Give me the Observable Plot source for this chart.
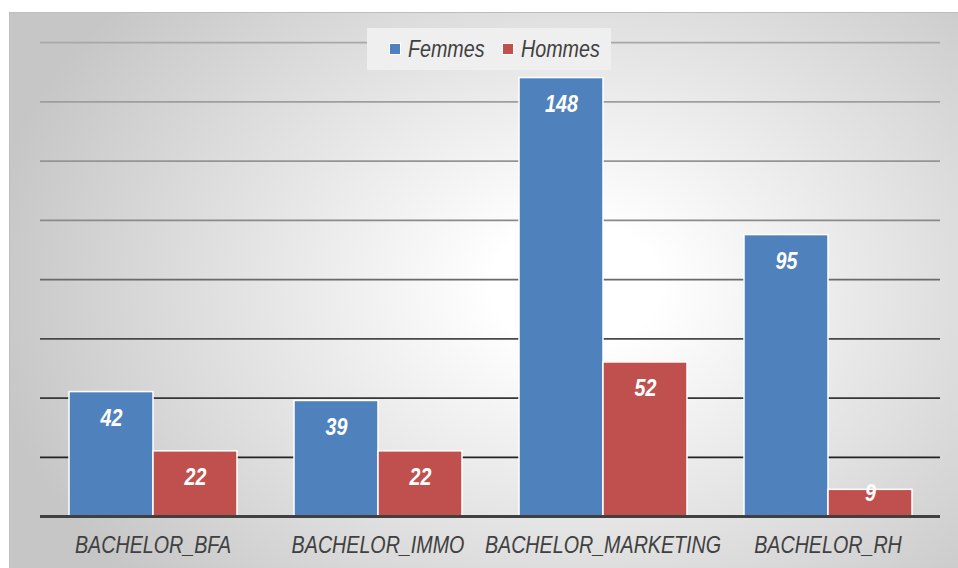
<!DOCTYPE html>
<html><head><meta charset="utf-8">
<script src="https://cdn.jsdelivr.net/npm/d3@7"></script>
<script src="https://cdn.jsdelivr.net/npm/@observablehq/plot@0.6"></script>
<style>
html,body{margin:0;padding:0;background:#fff;}
#wrap{position:relative;width:958px;height:568px;overflow:hidden;}
#bg{position:absolute;left:9px;top:12px;width:960px;height:570px;box-sizing:border-box;border:1px solid #bdbdbd;
 background:radial-gradient(ellipse 62% 78% at 59% 48%, #ffffff 0%, #ffffff 14%, #c6c6c6 100%);}
#chart{position:absolute;left:0;top:0;}
#legend{position:absolute;left:367px;top:28px;width:244px;height:42px;box-sizing:border-box;padding-left:22px;background:#efefef;display:flex;align-items:center;justify-content:flex-start;
 font-family:"Liberation Sans",Arial,sans-serif;font-size:24px;font-style:italic;color:#404040;}
#legend .item{display:flex;align-items:center;margin-right:17px;}
#legend .sw{display:inline-block;width:10px;height:10px;border:1px solid #fff;margin-right:7px;}
#legend .lbl{display:inline-block;transform:scaleX(0.82);transform-origin:left center;}
</style></head>
<body>
<div id="wrap"><div id="bg"></div><div id="chart"></div><div id="legend"></div></div>
<script>
const categories = ["BACHELOR_BFA", "BACHELOR_IMMO", "BACHELOR_MARKETING", "BACHELOR_RH"];
const series = ["Femmes", "Hommes"];
const femmes = [42, 39, 148, 95];
const hommes = [22, 22, 52, 9];
const gridTicks = [20, 40, 60, 80, 100, 120, 140, 160];
const colors = ["#4F81BD", "#C0504D"];

const FONT = '"Liberation Sans",Arial,sans-serif';
const NARROW = 0.82;
const rows = [];
categories.forEach((c, i) => {
  rows.push({category: c, series: series[0], value: femmes[i]});
  rows.push({category: c, series: series[1], value: hommes[i]});
});
const gridColor = d3.scaleLinear().domain([20, 60, 100, 160]).range(["#222222", "#484848", "#8a8a8a", "#a8a8a8"]);

const plot = Plot.plot({
  width: 958, height: 568,
  marginLeft: 39, marginRight: 17, marginTop: 42, marginBottom: 52,
  style: {background: "transparent", fontFamily: FONT, fontSize: "24px", fontStyle: "italic", color: "#404040", overflow: "visible"},
  y: {domain: [0, 160], axis: null},
  x: {domain: series, axis: null, paddingInner: 0, paddingOuter: 0.33},
  fx: {domain: categories, axis: "bottom", padding: 0, tickSize: 0, tickPadding: 19, label: null},
  color: {domain: series, range: colors},
  marks: [
    ...gridTicks.map(t => Plot.ruleY([t], {stroke: gridColor(t), strokeWidth: 1.75})),
    Plot.barY(rows, {fx: "category", x: "series", y: "value", fill: "series", stroke: "white", strokeWidth: 1.5}),
    Plot.ruleY([0], {stroke: "#404040", strokeWidth: 3}),
    Plot.text(rows.filter(d => d.value >= 15), {fx: "category", x: "series", y: "value", text: d => String(d.value), dy: 26, fill: "white", fontWeight: "bold", fontSize: 24}),
    Plot.text(rows.filter(d => d.value < 15), {fx: "category", x: "series", y: "value", text: d => String(d.value), dy: 3, fill: "white", fontWeight: "bold", fontSize: 24})
  ]
});
document.getElementById("chart").appendChild(plot);

// narrow the glyphs (Arial Narrow look)
plot.querySelectorAll("text").forEach(t => {
  const len = t.getComputedTextLength();
  if (len > 0) {
    t.setAttribute("textLength", (len * NARROW).toFixed(2));
    t.setAttribute("lengthAdjust", "spacingAndGlyphs");
  }
});

const legend = document.getElementById("legend");
series.forEach((s, i) => {
  const item = document.createElement("span");
  item.className = "item";
  const sw = document.createElement("span");
  sw.className = "sw";
  sw.style.background = colors[i];
  const lbl = document.createElement("span");
  lbl.className = "lbl";
  lbl.textContent = s;
  item.appendChild(sw);
  item.appendChild(lbl);
  legend.appendChild(item);
  lbl.style.marginRight = (lbl.getBoundingClientRect().width - lbl.offsetWidth) + "px";
});
</script>
</body></html>
